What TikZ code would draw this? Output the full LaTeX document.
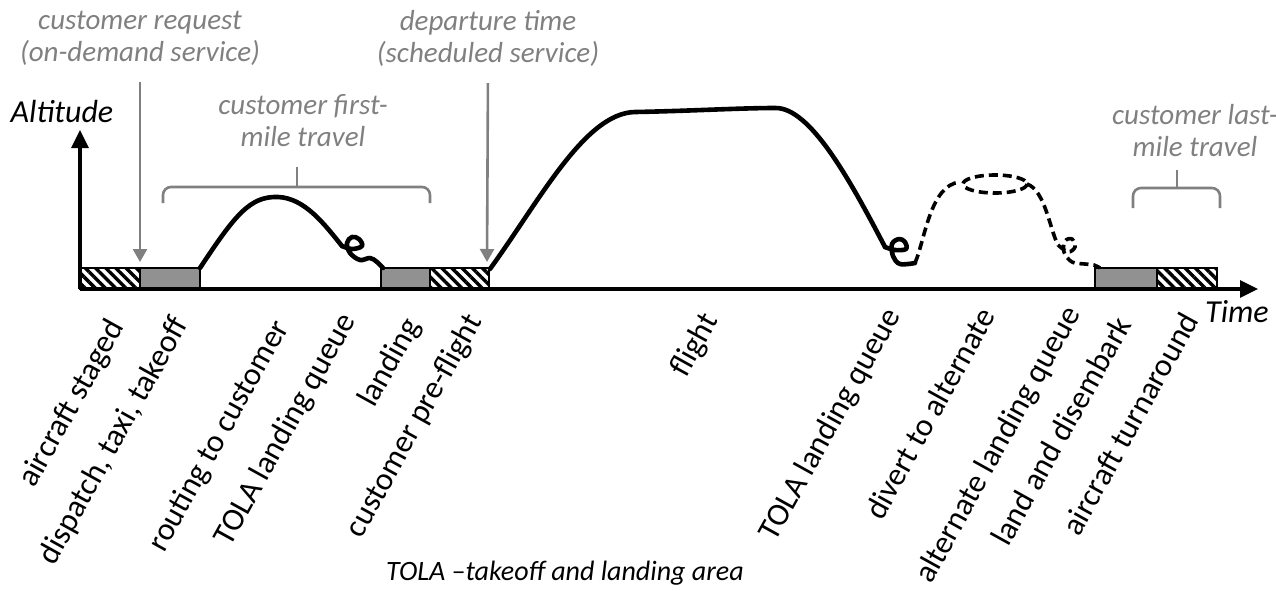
\documentclass[tikz,border=0pt]{standalone}
\usepackage{fontspec}
\setmainfont{Carlito}
\usepackage{tikz}
\usetikzlibrary{calc}
\usetikzlibrary{arrows.meta}
\usetikzlibrary{patterns.meta}
\definecolor{annot}{RGB}{128,128,128}
\definecolor{padgrey}{RGB}{145,145,145}

\begin{document}
\begin{tikzpicture}[x=0.5pt,y=-0.5pt,
    axisline/.style={line width=1.6pt,-{Triangle[length=9pt,width=8.5pt]}},
    pathline/.style={line width=2.3pt,line cap=round,line join=round},
    divertline/.style={line width=1.8pt,dash pattern=on 4.5pt off 2.5pt},
    annotline/.style={annot,line width=1.3pt},
    annotarrow/.style={annotline,-{Triangle[length=6.5pt,width=7pt]}},
    bracket/.style={annotline,rounded corners=4pt},
    annottext/.style={annot,font=\fontsize{14.5}{16}\selectfont\itshape,align=center},
    axislabel/.style={font=\fontsize{16}{19}\selectfont\itshape},
    phase/.style={rotate=61,anchor=north east,inner sep=0pt,font=\fontsize{16}{19}\selectfont},
    staged/.style={draw,line width=0.6pt,pattern={Lines[angle=-45,distance=3.6pt,line width=1.7pt]}},
    padbox/.style={draw,line width=0.6pt,fill=padgrey}]
    \useasboundingbox (0,0) rectangle (1276,590);

    % 地上の区間
    \draw[staged] (80,268) rectangle (140,289);
    \draw[padbox] (140,268) rectangle (200,289);
    \draw[padbox] (381,268) rectangle (430,289);
    \draw[staged] (430,268) rectangle (489,289);
    \draw[padbox] (1095,268) rectangle (1157,289);
    \draw[staged] (1157,268) rectangle (1217,289);

    % 軸を描く
    \coordinate (o) at (80,289);
    \coordinate (tend) at (1258,289);
    \coordinate (aend) at (80,130);
    \draw[axisline] (o)--(tend);
    \draw[axisline] (o)--(aend);
    \node[axislabel] (alt) at (62,112) {Altitude};
    \node[axislabel] (time) at (1237,312) {Time};

    % 顧客のところへ
    \draw[pathline] (200,268) .. controls (235,215) and (250,196) .. (278,197)
        .. controls (305,198) and (325,225) .. (342,246);
    \draw[pathline] plot[smooth,tension=0.6] coordinates {(342,246) (352,249) (362,246) (359,239) (352,237) (347,243) (350,253) (360,260) (370,258) (377,262) (383,268)};

    % 飛行
    \draw[pathline] (490,269) .. controls (540,200) and (585,113) .. (635,112)
        .. controls (690,111) and (740,108) .. (775,108)
        .. controls (810,107) and (850,180) .. (885,247);
    \draw[pathline] plot[smooth,tension=0.6] coordinates {(885,247) (895,250) (906,249) (905,242) (899,239) (892,244) (893,256) (900,264) (915,263)};

    % 代替へ
    \draw[divertline] (915,263) .. controls (925,240) and (930,185) .. (960,182);
    \draw[divertline] (995,184) ellipse [x radius=32, y radius=9];
    \draw[divertline] (1027,184) .. controls (1045,190) and (1050,230) .. (1058,245);
    \draw[divertline] plot[smooth,tension=0.6] coordinates {(1058,245) (1068,252) (1075,247) (1072,239) (1065,241) (1064,252) (1072,262) (1085,264) (1094,265) (1100,268)};

    % 時刻の注記
    \node[annottext] (req) at (140,38) {customer request\\(on-demand service)};
    \node[annottext] (dep) at (488,38) {departure time\\(scheduled service)};
    \coordinate (reqtip) at (140,262);
    \coordinate (deptip) at (487,262);
    \draw[annotarrow,shorten <=5pt] (req.south)--(reqtip);
    \draw[annotarrow,shorten <=5pt] (dep.south)--(deptip);

    % 顧客の移動
    \node[annottext] (first) at (303,121) {customer first-\\mile travel};
    \coordinate (firsttick) at (297,167);
    \draw[bracket] (163,203) |- (430,187)--(430,203);
    \draw[annotline] (297,187)--(firsttick);
    \node[annottext] (last) at (1195,131) {customer last-\\mile travel};
    \coordinate (lasttick) at (1177,170);
    \draw[bracket] (1133,208) |- (1220,188)--(1220,208);
    \draw[annotline] (1177,188)--(lasttick);

    % 各段階
    \node[phase] (staged) at (105,316) {aircraft staged};
    \node[phase] (taxi) at (169,313) {dispatch,\ taxi,\ takeoff};
    \node[phase] (route) at (270,316) {routing to customer};
    \node[phase] (queuea) at (337,309) {TOLA landing queue};
    \node[phase] (landa) at (401,314) {landing};
    \node[phase] (preflt) at (463,310) {customer pre-flight};
    \node[phase] (flt) at (699,309) {flight};
    \node[phase] (queueb) at (882,304) {TOLA landing queue};
    \node[phase] (divert) at (977,304) {divert to alternate};
    \node[phase] (queuec) at (1062,302) {alternate landing queue};
    \node[phase] (disemb) at (1113,313) {land and disembark};
    \node[phase] (turn) at (1180,309) {aircraft turnaround};

    \node[font=\fontsize{14}{16}\selectfont\itshape] (tola) at (565,573) {TOLA –takeoff and landing area};
\end{tikzpicture}
\end{document}
